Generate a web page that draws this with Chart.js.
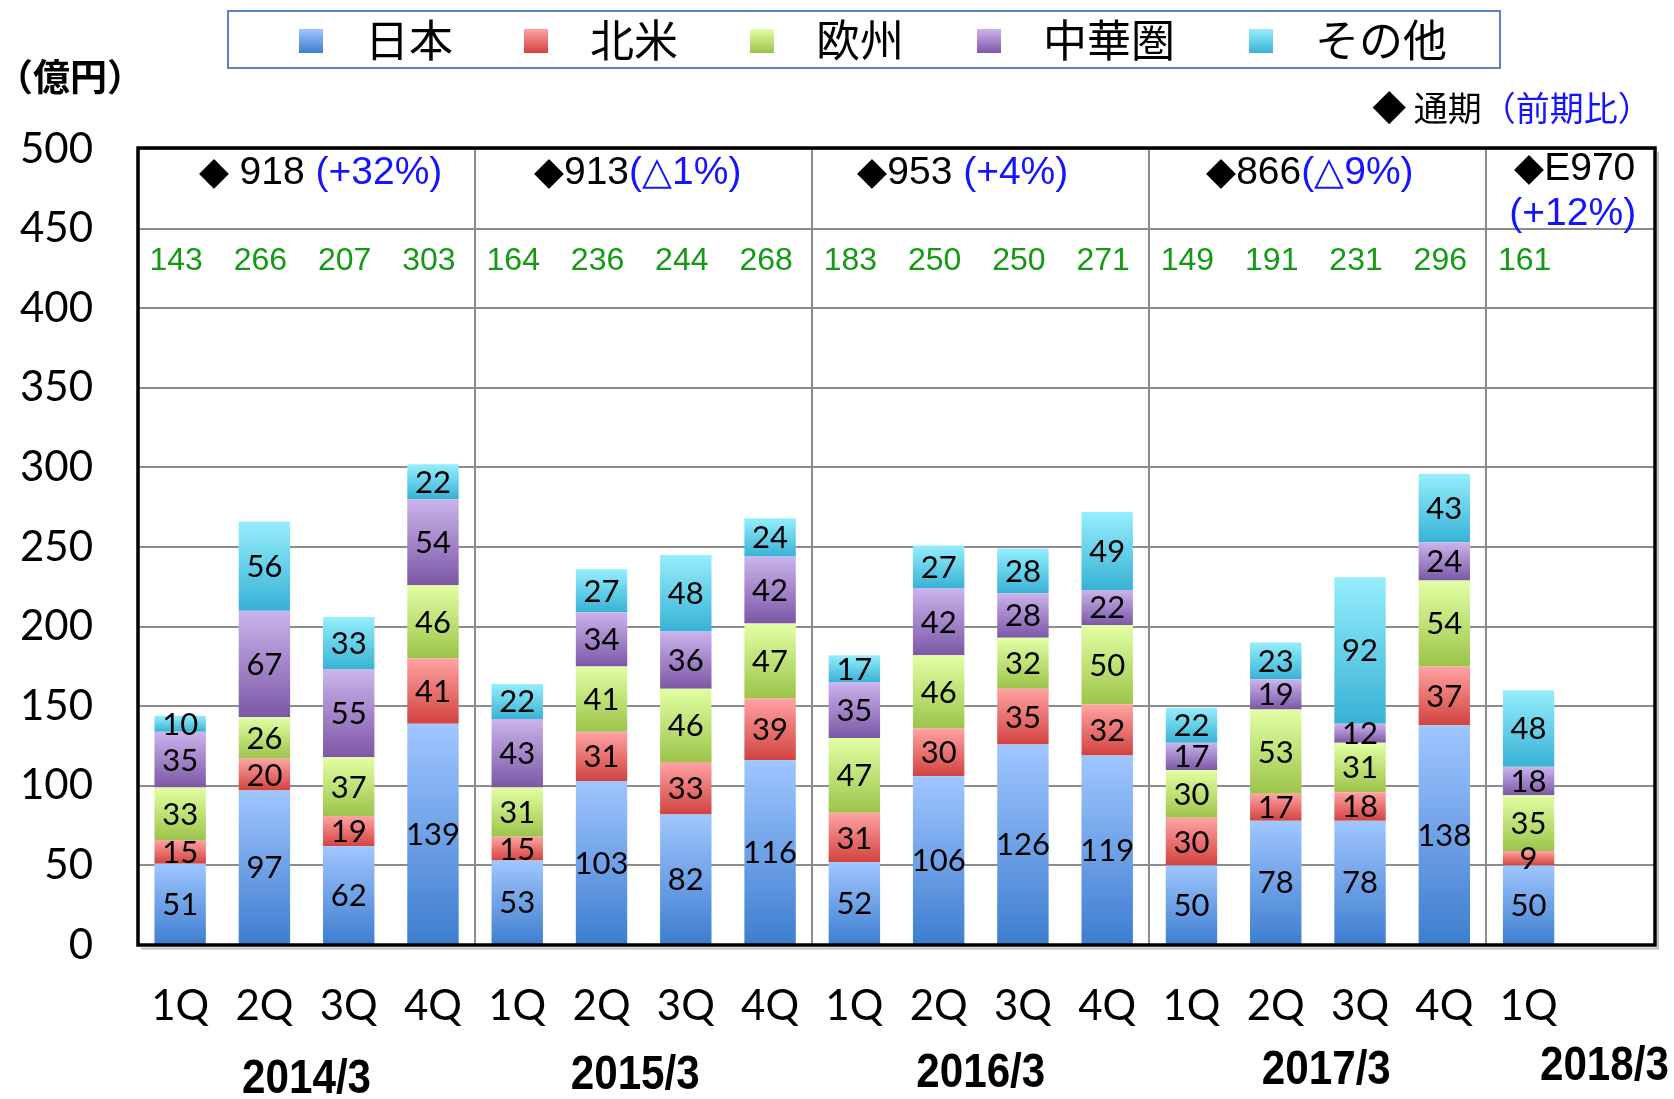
<!DOCTYPE html>
<html>
<head>
<meta charset="utf-8">
<script src="https://cdn.jsdelivr.net/npm/chart.js@4.4.1/dist/chart.umd.min.js"></script>
<style>
  html, body { margin: 0; padding: 0; background: #fff; }
  #wrap { width: 1674px; height: 1099px; position: relative; }
</style>
</head>
<body>
<div id="wrap"><canvas id="salesChart" width="1674" height="1099"></canvas></div>
<script>
// 地域別売上高（四半期）— 値はグラフから読み取り
const quarters = ['1Q', '2Q', '3Q', '4Q', '1Q', '2Q', '3Q', '4Q', '1Q', '2Q', '3Q', '4Q', '1Q', '2Q', '3Q', '4Q', '1Q', ''];
const fiscalYears = ['2014/3', '2015/3', '2016/3', '2017/3', '2018/3'];

const japan     = [51, 97, 62, 139, 53, 103, 82, 116, 52, 106, 126, 119, 50, 78, 78, 138, 50];
const northAm   = [15, 20, 19, 41, 15, 31, 33, 39, 31, 30, 35, 32, 30, 17, 18, 37, 9];
const europe    = [33, 26, 37, 46, 31, 41, 46, 47, 47, 46, 32, 50, 30, 53, 31, 54, 35];
const greaterCn = [35, 67, 55, 54, 43, 34, 36, 42, 35, 42, 28, 22, 17, 19, 12, 24, 18];
const others    = [10, 56, 33, 22, 22, 27, 48, 24, 17, 27, 28, 49, 22, 23, 92, 43, 48];

const quarterTotals = [143, 266, 207, 303, 164, 236, 244, 268, 183, 250, 250, 271, 149, 191, 231, 296, 161];
const annualTotals  = ['918', '913', '953', '866', 'E970'];
const annualChange  = ['(+32%)', '(△1%)', '(+4%)', '(△9%)', '(+12%)'];

const yTicks = [0, 50, 100, 150, 200, 250, 300, 350, 400, 450, 500];

const series = [
  { label: '日本',   data: japan,     top: '#a0c6ff', bottom: '#3d7dcf' },
  { label: '北米',   data: northAm,   top: '#ffa3a3', bottom: '#d1433f' },
  { label: '欧州',   data: europe,    top: '#e2ffa4', bottom: '#9cc44a' },
  { label: '中華圏', data: greaterCn, top: '#cbb4ec', bottom: '#7c57a6' },
  { label: 'その他', data: others,    top: '#96eefd', bottom: '#37b2d5' },
];

const NUM_FONT = 'Lato, "Open Sans", sans-serif';
const ARIAL = '"Liberation Sans", Arial, sans-serif';
const CJK = '"Noto Sans CJK JP", "Noto Sans", sans-serif';
const BLUE = '#1414ff';
const GREEN = '#139a13';

// 積み上げの下端値
function stackBase(di, i) {
  let s = 0;
  for (let k = 0; k < di; k++) s += series[k].data[i] || 0;
  return s;
}

function segmentGradient(c) {
  const s = series[c.datasetIndex];
  const chart = c.chart;
  const y = chart.scales.y;
  if (c.type !== 'data' || !y || !chart.chartArea) return s.bottom;
  const base = stackBase(c.datasetIndex, c.dataIndex);
  const top = y.getPixelForValue(base + (s.data[c.dataIndex] || 0));
  const bot = y.getPixelForValue(base);
  if (!isFinite(top) || !isFinite(bot) || top === bot) return s.bottom;
  const g = chart.ctx.createLinearGradient(0, top, 0, bot);
  g.addColorStop(0, s.top);
  g.addColorStop(1, s.bottom);
  return g;
}

// 文字列を色分けして中央揃えで描く
function drawParts(ctx, parts, cx, cy) {
  let w = 0;
  parts.forEach(p => { ctx.font = p.font; w += ctx.measureText(p.t).width; });
  let x = cx - w / 2;
  ctx.textAlign = 'left';
  ctx.textBaseline = 'middle';
  parts.forEach(p => {
    ctx.font = p.font;
    ctx.fillStyle = p.c;
    ctx.fillText(p.t, x, cy);
    x += ctx.measureText(p.t).width;
  });
}

// 横幅を詰めた文字
function drawNarrow(ctx, text, cx, cy, width) {
  const w = ctx.measureText(text).width;
  ctx.save();
  ctx.translate(cx, cy);
  ctx.scale(width / w, 1);
  ctx.fillText(text, 0, 0);
  ctx.restore();
}

const decorPlugin = {
  id: 'decor',
  beforeDraw(chart) {
    const ctx = chart.ctx;
    ctx.save();
    ctx.fillStyle = '#fff';
    ctx.fillRect(0, 0, chart.width, chart.height);
    ctx.restore();
  },
  afterDatasetsDraw(chart) {
    const ctx = chart.ctx;
    const { left, right, top, bottom } = chart.chartArea;
    const x = chart.scales.x;
    const y = chart.scales.y;
    ctx.save();

    // 各セグメントの数値
    ctx.font = '31px ' + NUM_FONT;
    ctx.fillStyle = '#000';
    ctx.textAlign = 'center';
    ctx.textBaseline = 'middle';
    chart.data.datasets.forEach((ds, di) => {
      chart.getDatasetMeta(di).data.forEach((el, i) => {
        if (ds.data[i] == null) return;
        ctx.fillText(String(ds.data[i]), el.x, (el.y + el.base) / 2 + 1);
      });
    });

    // 四半期合計（緑）
    ctx.font = '32px ' + ARIAL;
    ctx.fillStyle = GREEN;
    quarterTotals.forEach((t, i) => {
      ctx.fillText(String(t), x.getPixelForValue(i) - 4, y.getPixelForValue(430) + 1);
    });

    // 通期（前期比）
    const f = '39px ' + ARIAL;
    const yRow = y.getPixelForValue(485);
    const groupCenter = g => (x.getPixelForValue(g * 4 - 0.5) + x.getPixelForValue(g * 4 + 3.5)) / 2;
    const sep = [' ', '', ' ', ''];
    const shift = [14, -6, -18, -8];
    for (let g = 0; g < 4; g++) {
      const pre = g === 0 ? '◆ ' : '◆';
      drawParts(ctx, [
        { t: pre + annualTotals[g] + sep[g], c: '#000', font: f },
        { t: annualChange[g], c: BLUE, font: f }
      ], groupCenter(g) + shift[g], yRow);
    }
    const lastC = (x.getPixelForValue(15.5) + right) / 2;
    drawParts(ctx, [{ t: '◆' + annualTotals[4], c: '#000', font: f }], lastC + 4, y.getPixelForValue(487));
    drawParts(ctx, [{ t: annualChange[4], c: BLUE, font: f }], lastC + 2, y.getPixelForValue(459));

    // 枠線
    ctx.strokeStyle = '#000';
    ctx.lineWidth = 3.5;
    ctx.strokeRect(left, top - 1, right - left, bottom - top + 1);
    ctx.strokeStyle = 'rgba(0,0,0,0.25)';
    ctx.lineWidth = 2;
    ctx.beginPath();
    ctx.moveTo(left + 3, bottom + 3.5);
    ctx.lineTo(right + 3, bottom + 3.5);
    ctx.lineTo(right + 3, top + 3);
    ctx.stroke();

    // 年度ラベル
    ctx.font = 'bold 48px ' + ARIAL;
    ctx.fillStyle = '#000';
    ctx.textAlign = 'center';
    ctx.textBaseline = 'middle';
    const yearAt = [1.5, 5.4, 9.5, 13.6, 16.9];
    const yearY = [1080, 1076, 1074, 1071, 1067];
    fiscalYears.forEach((t, k) => {
      drawNarrow(ctx, t, x.getPixelForValue(yearAt[k]), yearY[k], 129);
    });

    // 単位
    ctx.font = 'bold 37px ' + CJK;
    ctx.textAlign = 'left';
    ctx.fillText('（億円）', -4, 77);

    // 通期（前期比）の凡例
    drawParts(ctx, [
      { t: '◆ 通期', c: '#000', font: '34px ' + CJK },
      { t: '（前期比）', c: BLUE, font: '34px ' + CJK }
    ], 1512, 108);

    // 系列の凡例
    ctx.strokeStyle = '#5a86c0';
    ctx.lineWidth = 2;
    ctx.strokeRect(228, 11, 1272, 57);
    const markX = [299, 524, 750, 977, 1249];
    series.forEach((s, k) => {
      const g = ctx.createLinearGradient(0, 29, 0, 53);
      g.addColorStop(0, s.top);
      g.addColorStop(1, s.bottom);
      ctx.fillStyle = g;
      ctx.fillRect(markX[k], 29, 24, 24);
      ctx.fillStyle = '#000';
      ctx.font = '44px ' + CJK;
      ctx.textAlign = 'left';
      ctx.textBaseline = 'middle';
      ctx.fillText(s.label, markX[k] + 66, 40);
    });

    ctx.restore();
  }
};

new Chart(document.getElementById('salesChart'), {
  type: 'bar',
  data: {
    labels: quarters,
    datasets: series.map(s => ({
      label: s.label,
      data: s.data,
      backgroundColor: segmentGradient,
      borderWidth: 0,
      categoryPercentage: 1,
      barPercentage: 0.61,
    }))
  },
  options: {
    responsive: false,
    animation: false,
    layout: { padding: { top: 149, right: 19, left: 0, bottom: 0 } },
    plugins: {
      legend: { display: false },
      tooltip: { enabled: false },
    },
    scales: {
      x: {
        stacked: true,
        offset: true,
        border: { display: false },
        grid: {
          offset: true,
          drawTicks: false,
          lineWidth: 2,
          color: c => (c.index % 4 === 0 ? '#8c8c8c' : 'rgba(0,0,0,0)'),
        },
        ticks: {
          color: '#000',
          padding: 36,
          maxRotation: 0,
          autoSkip: false,
          font: { family: NUM_FONT, size: 42 },
        },
        afterFit: s => { s.height = 154; },
      },
      y: {
        stacked: true,
        min: 0,
        max: 500,
        border: { display: false },
        grid: { drawTicks: false, lineWidth: 2, color: '#8c8c8c' },
        afterBuildTicks: s => { s.ticks = yTicks.map(v => ({ value: v })); },
        ticks: {
          color: '#000',
          padding: 45,
          font: { family: NUM_FONT, size: 42 },
        },
        afterFit: s => { s.width = 138; },
      }
    }
  },
  plugins: [decorPlugin]
});
</script>
</body>
</html>
